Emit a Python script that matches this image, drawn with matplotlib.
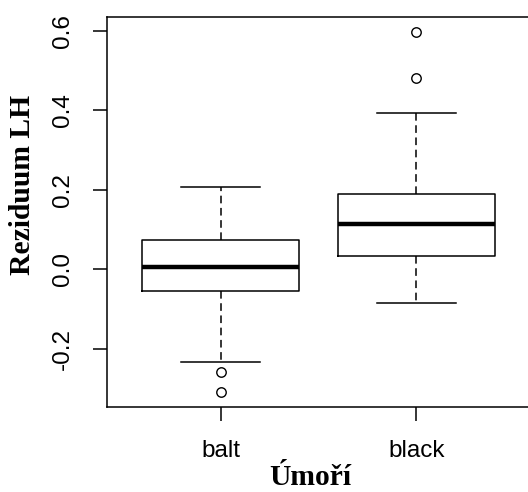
import matplotlib
matplotlib.use("Agg")
import matplotlib.pyplot as plt

# values
groups = ["balt", "black"]
whislo = [-0.233, -0.085]
q1 = [-0.054, 0.034]
med = [0.006, 0.114]
q3 = [0.073, 0.191]
whishi = [0.207, 0.394]
fliers = [[-0.258, -0.309], [0.482, 0.597]]

yticks = [-0.2, 0.0, 0.2, 0.4, 0.6]
ytick_labels = ["-0.2", "0.0", "0.2", "0.4", "0.6"]

stats = []
for i in range(len(groups)):
    stats.append({"label": groups[i], "whislo": whislo[i], "q1": q1[i], "med": med[i],
                  "q3": q3[i], "whishi": whishi[i], "fliers": fliers[i]})

fig = plt.figure(figsize=(5.28, 4.92), dpi=100)
ax = fig.add_axes([107 / 528, 1 - 407 / 492, 423 / 528, 390 / 492])

lw = 1.1
ax.bxp(stats, positions=[1, 2], widths=0.8, showcaps=True, showfliers=True,
       boxprops=dict(color="black", linewidth=lw),
       whiskerprops=dict(color="black", linewidth=lw, linestyle=(0, (5, 3))),
       capprops=dict(color="black", linewidth=lw),
       medianprops=dict(color="black", linewidth=3.2, solid_capstyle="butt"),
       flierprops=dict(marker="o", markerfacecolor="none", markeredgecolor="black",
                       markersize=6.8, markeredgewidth=1.0),
       capwidths=0.4)

ax.set_xlim(0.42, 2.58)
ax.set_ylim(-0.346, 0.635)

for s in ax.spines.values():
    s.set_linewidth(1.1)

ax.set_xticks([1, 2])
ax.set_xticklabels(groups, fontfamily="Liberation Sans", fontsize=17.5)
ax.set_yticks(yticks)
ax.set_yticklabels(ytick_labels, fontfamily="Liberation Sans", fontsize=17.5,
                   rotation=90, va="center")
ax.tick_params(axis="both", length=10, width=1.1, pad=14, color="black")

ax.set_xlabel("Úmoří", fontfamily="Liberation Serif", fontweight="bold", fontsize=21.3)
ax.set_ylabel("Reziduum LH", fontfamily="Liberation Serif", fontweight="bold", fontsize=21.3)
ax.xaxis.set_label_coords(0.481, -0.18)
ax.yaxis.set_label_coords(-0.2, 0.569)
ax.xaxis.label.set_va("center")
ax.yaxis.label.set_va("center")

fig.savefig("out.png", dpi=100)
